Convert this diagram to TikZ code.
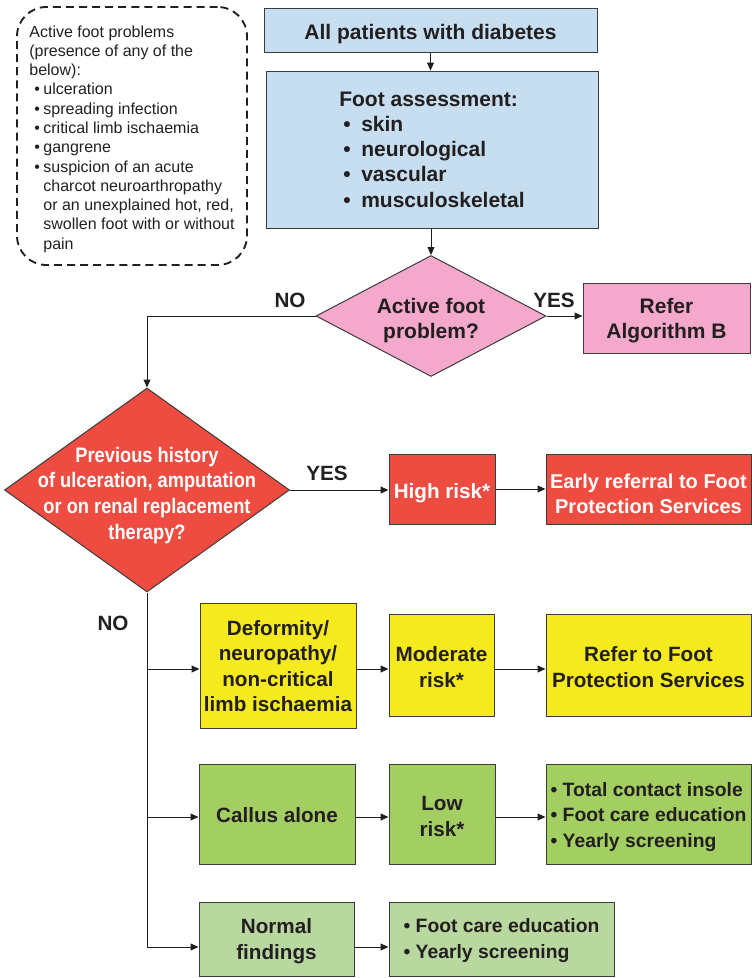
\documentclass[tikz,border=0pt]{standalone}
\usepackage{fontspec}
\setmainfont{Liberation Sans}
\newfontfamily\narrowfont[FakeStretch=0.87]{Liberation Sans}
\usetikzlibrary{arrows.meta,shapes.geometric,calc}
\definecolor{cblue}{RGB}{198,222,240}
\definecolor{cpink}{RGB}{244,168,204}
\definecolor{cred}{RGB}{238,76,64}
\definecolor{cyellow}{RGB}{244,234,30}
\definecolor{cgreen}{RGB}{163,206,98}
\definecolor{clgreen}{RGB}{185,216,160}
\definecolor{cborder}{RGB}{60,60,60}
\definecolor{ctext}{RGB}{35,31,32}
\definecolor{cline}{RGB}{30,30,30}
\newcommand\mainfs{\fontsize{15.5}{19.1}\selectfont\bfseries}
\newcommand\listfs{\fontsize{14.5}{18.9}\selectfont\bfseries}
% strut in the first line that lowers the text block by #2 (line height #1)
\newcommand\dn[2]{\rule{0pt}{\dimexpr #1+#2*2\relax}}
\begin{document}
\begin{tikzpicture}[x=0.75pt,y=-0.75pt,
  lower/.style={execute at begin node={\rule{0pt}{\dimexpr 11.2pt+#1*2\relax}}},
  box/.style={draw=cborder, line width=0.75pt, inner sep=0pt, align=center,
    font=\mainfs, text=ctext},
  diam/.style={draw=cborder, line width=0.75pt, shape=diamond, inner sep=0pt},
  lbl/.style={font=\mainfs, text=ctext, inner sep=0pt},
  arr/.style={draw=cline, line width=0.75pt, -{Triangle[length=6pt,width=5.2pt]}},
  conn/.style={draw=cline, line width=0.75pt}]
\useasboundingbox (0,0) rectangle (752,978);

% dashed info box
\node[draw=ctext, line width=1.4pt, dash pattern=on 6pt off 3.8pt,
  rounded corners=22pt, minimum width=172.5pt, minimum height=193.5pt,
  inner sep=0pt, align=left, text=ctext,
  font=\fontsize{12}{14.45}\selectfont] (info) at (132,136)
{\dn{8.8pt}{2.2pt}Active foot problems\\
(presence of any of the\\
below):\\
\hspace*{3.75pt}\makebox[6.75pt][l]{•}ulceration\\
\hspace*{3.75pt}\makebox[6.75pt][l]{•}spreading infection\\
\hspace*{3.75pt}\makebox[6.75pt][l]{•}critical limb ischaemia\\
\hspace*{3.75pt}\makebox[6.75pt][l]{•}gangrene\\
\hspace*{3.75pt}\makebox[6.75pt][l]{•}suspicion of an acute\\
\hspace*{10.5pt}charcot neuroarthropathy\\
\hspace*{10.5pt}or an unexplained hot, red,\\
\hspace*{10.5pt}swollen foot with or without\\
\hspace*{10.5pt}pain};

% top boxes
\node[box, fill=cblue, minimum width=249.75pt, minimum height=33pt, lower=3pt,
  font=\fontsize{15.75}{19}\selectfont\bfseries] (top) at (430.5,30)
  {All patients with diabetes};
\node[box, fill=cblue, minimum width=249pt, minimum height=117.75pt, align=left,
  font=\fontsize{15.75}{18.9}\selectfont\bfseries] (assess) at (432,149.5)
  {Foot assessment:\\
   \hspace*{3pt}\makebox[13.5pt][l]{•}skin\\
   \hspace*{3pt}\makebox[13.5pt][l]{•}neurological\\
   \hspace*{3pt}\makebox[13.5pt][l]{•}vascular\\
   \hspace*{3pt}\makebox[13.5pt][l]{•}musculoskeletal};

% diamond 1
\node[diam, fill=cpink, minimum width=172.5pt, minimum height=90.75pt,
  label={[lbl, align=center, font=\fontsize{15.75}{18.9}\selectfont\bfseries, yshift=-3.5pt]center:Active foot\\problem?}]
  (d1) at (431,316) {};
\node[box, fill=cpink, minimum width=125.25pt, minimum height=52.5pt,
  font=\fontsize{15.75}{18.9}\selectfont\bfseries] (referB) at (666.5,318)
  {\dn{11.3pt}{2.25pt}Refer\\Algorithm B};

% diamond 2
\node[diam, fill=cred, minimum width=213.75pt, minimum height=153pt,
  label={[lbl, align=center, text=white, yshift=-4pt,
    font=\narrowfont\fontsize{15.75}{19.2}\selectfont\bfseries]center:Previous history\\of ulceration, amputation\\or on renal replacement\\therapy?}]
  (d2) at (147,490) {};

% high risk row
\node[box, fill=cred, text=white, minimum width=79.5pt, minimum height=52.5pt, lower=3pt] (high) at (442,489) {High risk*};
\node[box, fill=cred, text=white, minimum width=153.75pt, minimum height=52.5pt,
  font=\fontsize{15}{19}\selectfont\bfseries] (early) at (648.5,489)
  {\dn{10.9pt}{3.6pt}Early referral to Foot\\Protection Services};

% moderate row
\node[box, fill=cyellow, minimum width=117pt, minimum height=93.75pt] (deform) at (278,665.5)
  {\dn{11.2pt}{0.4pt}Deformity/\\neuropathy/\\non-critical\\limb ischaemia};
\node[box, fill=cyellow, minimum width=78.75pt, minimum height=76.5pt] (moder) at (441.5,665)
  {\dn{11.2pt}{1.6pt}Moderate\\risk*};
\node[box, fill=cyellow, minimum width=153.75pt, minimum height=76.5pt] (referFPS) at (648.5,665)
  {\dn{11.2pt}{1.6pt}Refer to Foot\\Protection Services};

% low row
\node[box, fill=cgreen, minimum width=117pt, minimum height=75pt, lower=0.8pt] (callus) at (277,814) {Callus alone};
\node[box, fill=cgreen, minimum width=79.5pt, minimum height=75pt] (low) at (442,814)
  {\dn{11.2pt}{1.5pt}Low\\risk*};
\node[box, fill=cgreen, minimum width=153.75pt, minimum height=75pt, align=left,
  font=\listfs] (lowact) at (648.5,814)
  {\dn{10.5pt}{2.2pt}• Total contact insole\\• Foot care education\\• Yearly screening};

% normal row
\node[box, fill=clgreen, minimum width=116.25pt, minimum height=55.5pt] (normal) at (276.5,939)
  {\dn{11.2pt}{1.5pt}Normal\\findings};
\node[box, fill=clgreen, minimum width=168.75pt, minimum height=55.5pt, align=left,
  font=\fontsize{14.5}{19.5}\selectfont\bfseries] (normact) at (501.5,939)
  {\dn{10.5pt}{1.5pt}• Foot care education\\• Yearly screening};

% labels
\node[lbl] (no1) at (290,300) {NO};
\node[lbl] (yes1) at (554,300) {YES};
\node[lbl] (yes2) at (327,473) {YES};
\node[lbl] (no2) at (113,623) {NO};

% row coordinates
\coordinate (rowm) at ($(deform.west)+(0,3.5)$);
\coordinate (rowc) at ($(callus.west)+(0,3)$);
\coordinate (rown) at ($(normal.west)+(0,8)$);

% connectors
\draw[arr] (top.south) -- (assess.north -| top.south);
\draw[arr] (assess.south -| d1.north) -- (d1.north);
\draw[arr] (d1.east) -- (d1.east -| referB.west);
\draw[arr] (d1.west) -| (d2.north);
\draw[arr] (d2.east) -- (d2.east -| high.west);
\draw[arr] (high.east) -- (early.west);
\draw[arr] (d2.south) |- (rown);
\draw[arr] (d2.south |- rowm) -- (rowm);
\draw[arr] (d2.south |- rowc) -- (rowc);
\draw[arr] (rowm -| deform.east) -- (rowm -| moder.west);
\draw[arr] (rowm -| moder.east) -- (rowm -| referFPS.west);
\draw[arr] (rowc -| callus.east) -- (rowc -| low.west);
\draw[arr] (rowc -| low.east) -- (rowc -| lowact.west);
\draw[arr] (rown -| normal.east) -- (rown -| normact.west);
\end{tikzpicture}
\end{document}
